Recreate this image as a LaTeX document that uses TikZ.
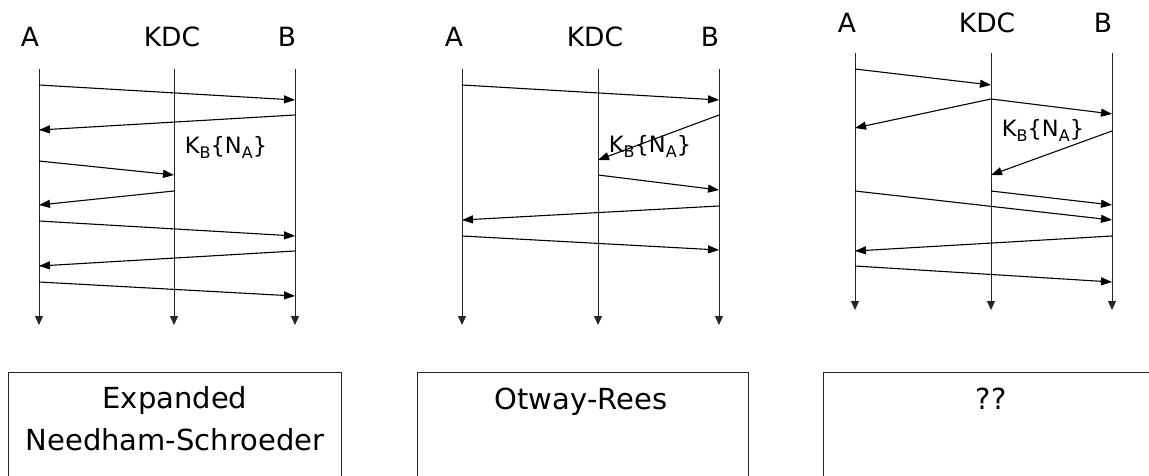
\documentclass[tikz,border=0pt]{standalone}
\usepackage{fontspec}
\setmainfont{DejaVu Sans}
\usetikzlibrary{arrows.meta}

% one message between two lifelines: start lifeline, start height, end lifeline, end height
\newcommand\msgarrow[4]{\draw[msg] (#1 |- 0,#2) -- (#3 |- 0,#4);}

\begin{document}
\begin{tikzpicture}[x=1pt,y=-1pt,
  life/.style={line width=1pt,black!85,-{Triangle[length=9pt,width=8pt]}},
  msg/.style={line width=1.1pt,-{Triangle[length=11pt,width=8pt]}},
  party/.style={font=\fontsize{26.5}{30}\selectfont,anchor=base,inner sep=0pt},
  keylbl/.style={font=\fontsize{22.5}{26}\selectfont,anchor=base,inner sep=0pt},
  protobox/.style={draw=black!85,line width=1pt,anchor=north west,inner sep=0pt},
  boxtext/.style={font=\fontsize{29}{42}\selectfont,align=center,anchor=base,inner sep=0pt}]

\useasboundingbox (0,0) rectangle (1149,476);
\clip (0,0) rectangle (1149,476);
\fill[white] (0,0) rectangle (1149,476);

% subscripted key label K_B{N_A}
\newcommand\kbna{K\raisebox{-0.18em}{\fontsize{16}{16}\selectfont B}\{N\raisebox{-0.18em}{\fontsize{16}{16}\selectfont A}\}}

% ---------- Expanded Needham-Schroeder ----------
\node[party] (pa1) at (30,47) {A};
\node[party] (pk1) at (172,47) {KDC};
\node[party] (pb1) at (287,47) {B};
\coordinate (A1) at (39,69);  \coordinate (A1e) at (39,325);
\coordinate (K1) at (174,69); \coordinate (K1e) at (174,325);
\coordinate (B1) at (295,69); \coordinate (B1e) at (295,325);
\draw[life] (A1) -- (A1e);
\draw[life] (K1) -- (K1e);
\draw[life] (B1) -- (B1e);
\msgarrow{A1}{85}{B1}{100}
\msgarrow{B1}{115}{A1}{130}
\msgarrow{A1}{161}{K1}{175}
\msgarrow{K1}{191}{A1}{205}
\msgarrow{A1}{221}{B1}{236}
\msgarrow{B1}{251}{A1}{266}
\msgarrow{A1}{282}{B1}{296}
\node[keylbl] (kl1) at (226,154) {\kbna};

% ---------- Otway-Rees ----------
\node[party] (pa2) at (454,47) {A};
\node[party] (pk2) at (595,47) {KDC};
\node[party] (pb2) at (710,47) {B};
\coordinate (A2) at (462,69); \coordinate (A2e) at (462,325);
\coordinate (K2) at (598,69); \coordinate (K2e) at (598,325);
\coordinate (B2) at (719,69); \coordinate (B2e) at (719,325);
\draw[life] (A2) -- (A2e);
\draw[life] (K2) -- (K2e);
\draw[life] (B2) -- (B2e);
\node[keylbl] (kl2) at (650,153) {\kbna};
\msgarrow{A2}{85}{B2}{100}
\msgarrow{B2}{115}{K2}{160}
\msgarrow{K2}{175}{B2}{190}
\msgarrow{B2}{206}{A2}{220}
\msgarrow{A2}{236}{B2}{250}

% ---------- unnamed protocol ----------
\node[party] (pa3) at (847,33) {A};
\node[party] (pk3) at (987,33) {KDC};
\node[party] (pb3) at (1103,33) {B};
\coordinate (A3) at (855,53);  \coordinate (A3e) at (855,310);
\coordinate (K3) at (991,53);  \coordinate (K3e) at (991,310);
\coordinate (B3) at (1112,53); \coordinate (B3e) at (1112,310);
\draw[life] (A3) -- (A3e);
\draw[life] (K3) -- (K3e);
\draw[life] (B3) -- (B3e);
\msgarrow{A3}{69}{K3}{85}
\msgarrow{K3}{99}{A3}{128}
\msgarrow{K3}{99}{B3}{114}
\msgarrow{B3}{131}{K3}{175}
\msgarrow{K3}{191}{B3}{205}
\msgarrow{A3}{191}{B3}{220}
\msgarrow{B3}{236}{A3}{251}
\msgarrow{A3}{266}{B3}{282}
\node[keylbl] (kl3) at (1043,137) {\kbna};

% ---------- protocol name boxes ----------
\node[protobox,minimum width=333pt,minimum height=140pt] (box1) at (8,372) {};
\node[protobox,minimum width=331pt,minimum height=140pt] (box2) at (417,372) {};
\node[protobox,minimum width=340pt,minimum height=140pt] (box3) at (823,372) {};
\node[boxtext] (t1a) at (175,408) {Expanded};
\node[boxtext] (t1b) at (175,450) {Needham-Schroeder};
\node[boxtext] (t2) at (581,409) {Otway-Rees};
\node[boxtext] (t3) at (991,409) {??};
\end{tikzpicture}
\end{document}
